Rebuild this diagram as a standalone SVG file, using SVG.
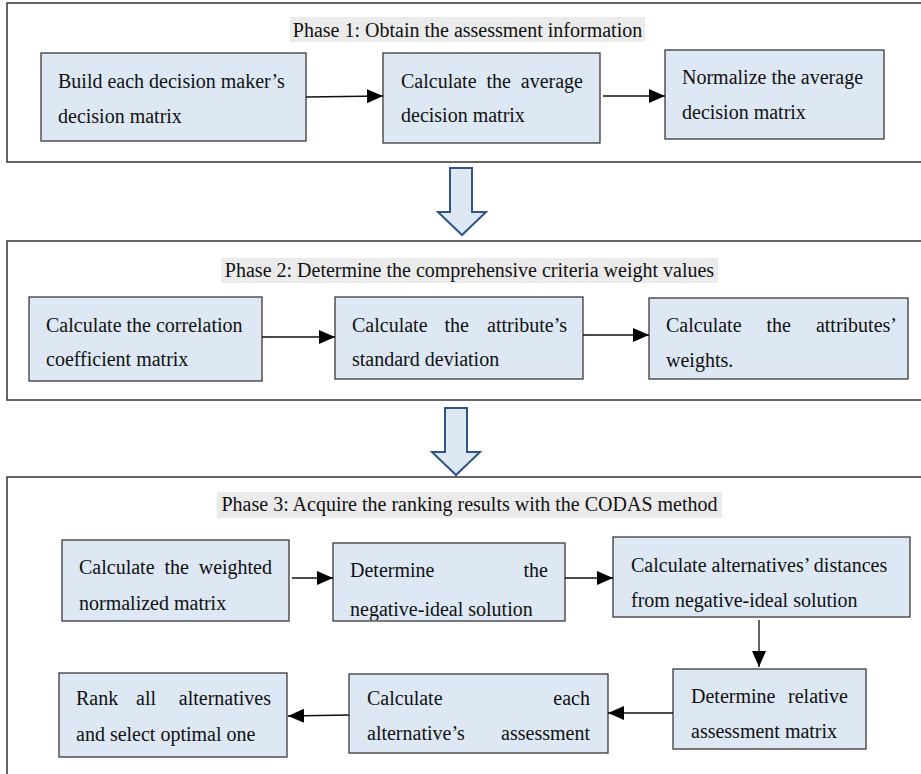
<svg xmlns="http://www.w3.org/2000/svg" width="921" height="774" viewBox="0 0 921 774" font-family="Liberation Serif, Times New Roman, serif">
<style>
.phase{fill:#fff;stroke:#333;stroke-width:1.5}
.tbg{fill:#ebebeb}
.box{fill:#dde8f4;stroke:#3a3a3a;stroke-width:1.3}
text{font-family:'Liberation Serif','Times New Roman',serif;font-size:20px;fill:#111}
.title{text-anchor:middle}
.m{text-anchor:middle}
.e{text-anchor:end}
.conn{stroke:#111;stroke-width:1.3;fill:none;marker-end:url(#ah)}
.block{fill:#dde8f4;stroke:#2f5584;stroke-width:2;stroke-linejoin:miter}
</style>
<defs>
<marker id="ah" markerUnits="userSpaceOnUse" markerWidth="16" markerHeight="14" refX="16" refY="7" orient="auto">
<path d="M0,0 L16,7 L0,14 Z" fill="#000"/>
</marker>
<clipPath id="c2"><rect x="333" y="543" width="232" height="77"/></clipPath>
</defs>

<g id="phase1">
<rect class="phase" x="7" y="3" width="920" height="159"/>
<rect class="tbg" x="290" y="17" width="355" height="25"/>
<text class="title" x="467.5" y="37">Phase 1: Obtain the assessment information</text>
</g>
<g id="p1n1">
<rect class="box" x="41" y="53" width="265" height="88"/>
<text x="58" y="88">Build each decision maker’s</text>
<text x="58" y="123">decision matrix</text>
</g>
<g id="p1n2">
<rect class="box" x="383" y="53" width="217" height="90"/>
<text x="401" y="88">Calculate</text><text class="m" x="498.6" y="88">the</text><text class="e" x="583" y="88">average</text>
<text x="401" y="122">decision matrix</text>
</g>
<g id="p1n3">
<rect class="box" x="665" y="50" width="219" height="89"/>
<text x="682" y="84">Normalize the average</text>
<text x="682" y="119">decision matrix</text>
</g>

<g id="blockarrow1">
<path class="block" d="M450,168 L472,168 L472,212 L486,212 L462,235 L438,212 L450,212 Z"/>
</g>

<g id="phase2">
<rect class="phase" x="7" y="241" width="920" height="159"/>
<rect class="tbg" x="221" y="258" width="497" height="25"/>
<text class="title" x="469.5" y="277">Phase 2: Determine the comprehensive criteria weight values</text>
</g>
<g id="p2n1">
<rect class="box" x="29" y="297" width="233" height="84"/>
<text x="46" y="332">Calculate the correlation</text>
<text x="46" y="366">coefficient matrix</text>
</g>
<g id="p2n2">
<rect class="box" x="335" y="297" width="248" height="82"/>
<text x="352" y="332">Calculate</text><text class="m" x="456.7" y="332">the</text><text class="e" x="567" y="332">attribute’s</text>
<text x="352" y="366">standard deviation</text>
</g>
<g id="p2n3">
<rect class="box" x="649" y="298" width="259" height="81"/>
<text x="666" y="332">Calculate</text><text class="m" x="778.7" y="332">the</text><text class="e" x="897" y="332">attributes’</text>
<text x="666" y="367">weights.</text>
</g>

<g id="blockarrow2">
<path class="block" d="M445,408 L467,408 L467,452 L480,452 L456,475 L432,452 L445,452 Z"/>
</g>

<g id="phase3">
<rect class="phase" x="7" y="477" width="920" height="310"/>
<rect class="tbg" x="217" y="492" width="505" height="26"/>
<text class="title" x="469.5" y="511">Phase 3: Acquire the ranking results with the CODAS method</text>
</g>
<g id="p3n1">
<rect class="box" x="62" y="540" width="227" height="81"/>
<text x="79" y="574">Calculate</text><text class="m" x="176.6" y="574">the</text><text class="e" x="272" y="574">weighted</text>
<text x="79" y="610">normalized matrix</text>
</g>
<g id="p3n2">
<rect class="box" x="333" y="543" width="232" height="78"/>
<text x="350" y="577">Determine</text><text class="e" x="548" y="577">the</text>
<text x="350" y="616" clip-path="url(#c2)">negative-ideal solution</text>
</g>
<g id="p3n3">
<rect class="box" x="613" y="537" width="297" height="80"/>
<text x="631" y="572">Calculate alternatives’ distances</text>
<text x="631" y="607">from negative-ideal solution</text>
</g>
<g id="p3n4">
<rect class="box" x="673" y="669" width="193" height="80"/>
<text x="691" y="703">Determine</text><text class="e" x="848" y="703">relative</text>
<text x="691" y="738">assessment matrix</text>
</g>
<g id="p3n5">
<rect class="box" x="349" y="674" width="259" height="79"/>
<text x="367" y="705">Calculate</text><text class="e" x="590" y="705">each</text>
<text x="367" y="740">alternative’s</text><text class="e" x="590" y="740">assessment</text>
</g>
<g id="p3n6">
<rect class="box" x="59" y="673" width="228" height="84"/>
<text x="76" y="705">Rank</text><text class="m" x="146" y="705">all</text><text class="e" x="271" y="705">alternatives</text>
<text x="76" y="741">and select optimal one</text>
</g>

<g id="connectors">
<line class="conn" x1="306" y1="97" x2="383" y2="96"/>
<line class="conn" x1="603" y1="96" x2="665" y2="96"/>
<line class="conn" x1="262" y1="337" x2="335" y2="337"/>
<line class="conn" x1="583" y1="335" x2="649" y2="335"/>
<line class="conn" x1="292" y1="578" x2="333" y2="578"/>
<line class="conn" x1="565" y1="578" x2="613" y2="578"/>
<line class="conn" x1="759" y1="620" x2="759" y2="667"/>
<line class="conn" x1="673" y1="713" x2="608" y2="713"/>
<line class="conn" x1="349" y1="715" x2="288" y2="716"/>
</g>
</svg>
